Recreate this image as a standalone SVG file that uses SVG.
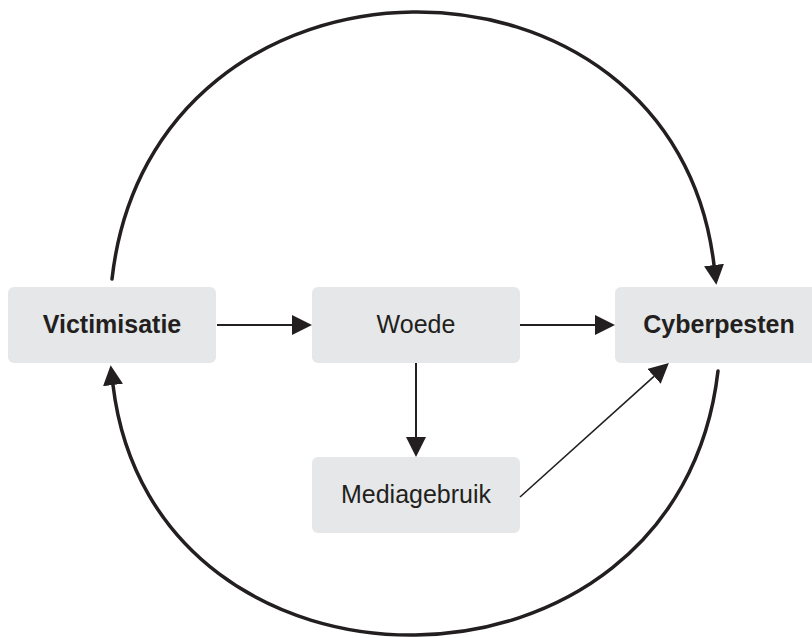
<svg xmlns="http://www.w3.org/2000/svg" width="812" height="638" viewBox="0 0 812 638">
<defs>
<style>
.box{fill:#e6e7e8;}
.lbl{font-family:"Liberation Sans",Arial,sans-serif;font-size:25px;fill:#231f20;text-anchor:middle;}
.b{font-weight:bold;}
.arc{fill:none;stroke:#231f20;stroke-width:3.5;stroke-linecap:round;}
.ln{fill:none;stroke:#231f20;stroke-width:2;}
.thin{fill:none;stroke:#231f20;stroke-width:1.6;}
</style>
<marker id="ah" markerUnits="userSpaceOnUse" markerWidth="20" markerHeight="20" viewBox="0 0 20 20" refX="0" refY="10" orient="auto">
<path d="M0,0 L20,10 L0,20 Z" fill="#231f20"/>
</marker>
</defs>
<rect width="812" height="638" fill="#ffffff"/>
<g id="victimisatie">
<rect class="box" x="8" y="287" width="208" height="76" rx="6"/>
<text class="lbl b" x="112" y="333">Victimisatie</text>
</g>
<g id="woede">
<rect class="box" x="312" y="287" width="208" height="76" rx="6"/>
<text class="lbl" x="416" y="333">Woede</text>
</g>
<g id="cyberpesten">
<rect class="box" x="615" y="287" width="208" height="76" rx="6"/>
<text class="lbl b" x="719" y="333">Cyberpesten</text>
</g>
<g id="mediagebruik">
<rect class="box" x="312" y="457" width="208" height="76" rx="6"/>
<text class="lbl" x="416" y="503">Mediagebruik</text>
</g>
<g id="connectors">
<path class="arc" d="M112,279 C152,-74.7 674,-74.7 714,265" marker-end="url(#ah)"/>
<path class="arc" d="M718,371 C678,720.7 153,720.7 113,385" marker-end="url(#ah)"/>
<line class="ln" x1="217" y1="325" x2="292" y2="325" marker-end="url(#ah)"/>
<line class="ln" x1="520" y1="325" x2="595" y2="325" marker-end="url(#ah)"/>
<line class="ln" x1="416" y1="363" x2="416" y2="437" marker-end="url(#ah)"/>
<line class="thin" x1="520" y1="497" x2="654" y2="376.4" marker-end="url(#ah)"/>
</g>
</svg>
